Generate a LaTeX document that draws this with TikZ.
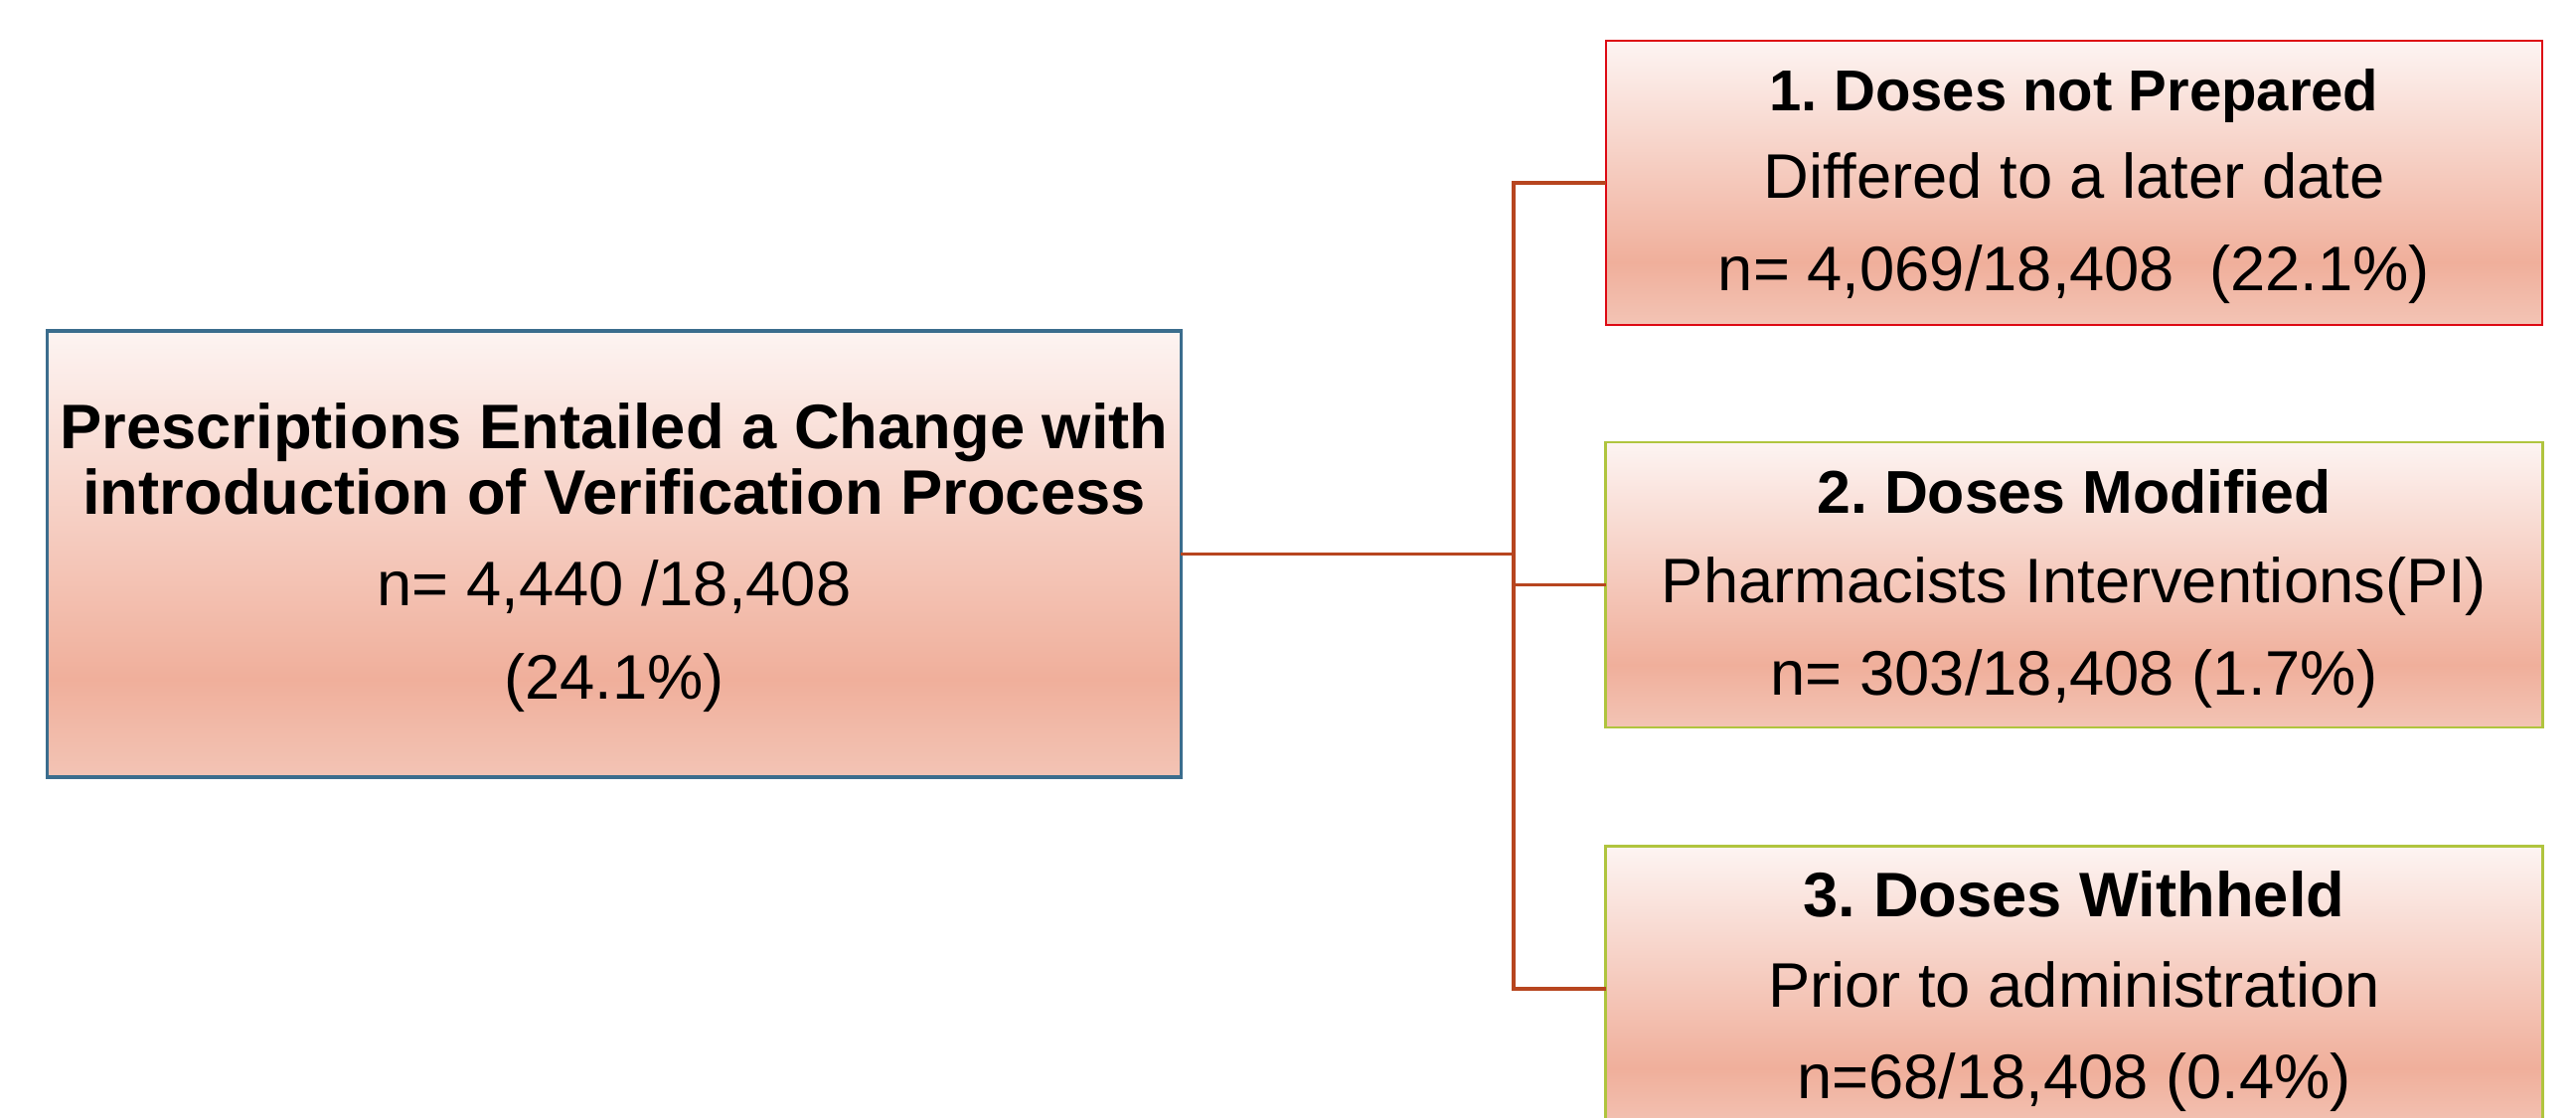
\documentclass[tikz,border=0pt]{standalone}
\usepackage{fontspec}
\setmainfont{Liberation Sans}
\frenchspacing
\definecolor{ctop}{HTML}{FDF4F2}
\definecolor{cdark}{HTML}{F0AF9B}
\definecolor{cbot}{HTML}{F3C4B5}
\definecolor{cblue}{HTML}{3B6D8D}
\definecolor{cred}{HTML}{DD0A14}
\definecolor{cgreen}{HTML}{B0C43E}
\definecolor{cline}{HTML}{B7451F}
\pgfdeclareverticalshading{boxshade}{100bp}{color(0bp)=(cbot); color(25bp)=(cbot); color(36bp)=(cdark); color(75bp)=(ctop); color(100bp)=(ctop)}
\begin{document}
\begin{tikzpicture}[x=0.01cm,y=-0.01cm,
  boxbase/.style={rectangle, shade, shading=boxshade, inner sep=0pt, outer sep=0pt},
  mainbox/.style={boxbase, draw=cblue, line width=1pt, minimum width=11.4cm, minimum height=4.49cm},
  redbox/.style={boxbase, draw=cred, line width=0.65pt, minimum width=9.42cm, minimum height=2.86cm},
  greenbox/.style={boxbase, draw=cgreen, line width=0.75pt, minimum width=9.42cm, minimum height=2.87cm},
  ttl/.style={anchor=base, inner sep=0pt, font=\fontsize{18}{21}\selectfont\bfseries},
  txt/.style={anchor=base, inner sep=0pt, font=\fontsize{18}{21}\selectfont},
  conn/.style={draw=cline, line width=1pt}
]
\useasboundingbox (0,0) rectangle (2592,1125);
\clip (0,0) rectangle (2592,1125);

% boxes
\node[mainbox] (left) at (618,557.5) {};
\node[redbox] (box1) at (2087,184) {};
\node[greenbox] (box2) at (2087,588.5) {};
\node[greenbox] (box3) at (2087,995) {};

% connectors
\coordinate (tr) at (1523,557);
\draw[conn] (left.east) -- (left.east -| tr);
\draw[conn] (box1.west) -| (tr) |- (box3.west);
\draw[conn] (tr) |- (box2.west);

% texts of the main box
\node[ttl] (l1) at (618,452) {Prescriptions Entailed a Change with};
\node[ttl] (l2) at (618,518) {introduction of Verification Process};
\node[txt] (l3) at (618,610) {n= 4,440 /18,408};
\node[txt] (l4) at (618,703) {(24.1\%)};

% box 1
\node[ttl, font=\fontsize{16.5}{20}\selectfont\bfseries] (a1) at (2087,112) {1. Doses not Prepared};
\node[txt] (a2) at (2087,200) {Differed to a later date};
\node[txt] (a3) at (2087,293) {n= 4,069/18,408\ \ (22.1\%)};

% box 2
\node[ttl, font=\fontsize{17.3}{20}\selectfont\bfseries] (b1) at (2087,517) {2. Doses Modified};
\node[txt] (b2) at (2087,606) {Pharmacists Interventions(PI)};
\node[txt] (b3) at (2087,699) {n= 303/18,408 (1.7\%)};

% box 3
\node[ttl] (c1) at (2087,922) {3. Doses Withheld};
\node[txt] (c2) at (2087,1013) {Prior to administration};
\node[txt] (c3) at (2087,1105) {n=68/18,408 (0.4\%)};
\end{tikzpicture}
\end{document}
